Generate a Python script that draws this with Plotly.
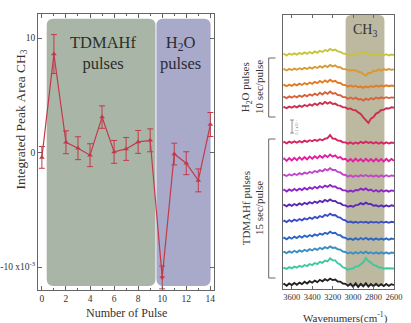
import plotly.graph_objects as go

# ---------------- data: left panel ----------------
pulse = list(range(15))
peak_area = [-0.42, 8.6, 0.9, 0.38, -0.23, 3.1, 0.06, 0.32, 0.93, 1.07, -10.9, -0.13, -0.93, -2.43, 2.45]
peak_err = [0.95, 1.7, 1.0, 1.0, 1.0, 0.98, 1.0, 1.0, 1.0, 1.0, 1.0, 0.95, 1.0, 1.0, 1.05]
x_ticks = [0, 2, 4, 6, 8, 10, 12, 14]
y_ticks = [-10, 0, 10]
y_ticktext = ["-10 x10<sup>-3</sup>", "0", "10"]

# ---------------- data: right panel ----------------
wavenumber = [3700, 3675, 3650, 3625, 3600, 3575, 3550, 3525, 3500, 3475, 3450, 3425, 3400,
              3375, 3350, 3325, 3300, 3275, 3250, 3225, 3200, 3175, 3150, 3125, 3100, 3075,
              3050, 3025, 3000, 2975, 2950, 2925, 2900, 2875, 2850, 2825, 2800, 2775, 2750,
              2725, 2700, 2675, 2650, 2625, 2600]
wn_ticks = [3600, 3400, 3200, 3000, 2800, 2600]
spec_offset = [234, 219, 203, 191, 181, 146, 129, 113, 98, 83, 67, 50, 36, 20, 4]
spec_colors = ["#c8c43a", "#d89a34", "#e27c22", "#d8623a", "#cc3050", "#d42664", "#e41ea2",
               "#c046c8", "#8c24cc", "#5a28b8", "#3a4cc8", "#2a66c4", "#3a8ec4", "#3ec8a0", "#222222"]
s1 = [0,1.2,-0.5,1.4,0.2,1.6,0.4,2.1,0.9,2.6,1.2,3,1.6,3.6,2.2,4.2,3,5,3.9,6,4.6,5.4,3.6,3.2,1.6,1.2,0,-0.6,0.9,0.2,1.8,3,1.6,2.8,0.6,1.4,-0.2,0.9,-0.5,0.7,-0.3,0.8,-0.5,0.4,0]
s2 = [0,1,-0.5,1.1,0,1.4,0.3,1.8,0.6,2.2,1,2.6,1.4,3.2,2,3.8,2.4,4.4,3,5,3.6,4.6,2.8,2.8,1,0.9,-0.3,-0.2,-0.6,-0.3,-1.8,-2.2,-4,-5.6,-3,-3,-0.8,-1.2,0.6,-0.6,0.9,0,1,0.2,0.6]
s3 = [0,1.1,-0.2,1.4,0.2,1.8,0.6,2.3,1,2.9,1.6,3.5,2.2,4.2,2.8,5,3.4,5.6,4,6.2,4.4,5.2,3.2,3,1.2,0.9,-0.6,0.5,-0.8,0.3,-1.2,-0.6,-1.9,-0.4,-1.5,0,-1,0.4,-0.7,0.5,-0.4,0.7,-0.2,0.5,0]
s4 = [0,1.2,-0.1,1.6,0.3,2,0.7,2.5,1.1,3.1,1.7,3.7,2.3,4.4,2.9,5.2,3.5,5.8,4.2,6.4,4.4,5,3,2.8,1,0.9,-0.8,0.5,-1,0.3,-1.4,-1,-2.6,-0.7,-2,0,-1.3,0.5,-0.7,0.7,-0.3,0.8,-0.1,0.6,0.2]
s5 = [0,1,-0.1,1.4,0.3,1.9,0.7,2.4,1.2,3,1.8,3.6,2.4,4.4,3,5.2,3.8,6,4.4,5.8,4,4.4,2.6,2.4,0.8,0.6,-0.9,-0.4,-2,-2.2,-4.4,-6,-9.4,-12.5,-15,-10.6,-9,-5.6,-4.4,-2,-1.8,-0.2,-0.5,0.7,0.2]
s6 = [0,1.1,-0.3,1.3,0.1,1.6,0.3,1.9,0.7,2.4,1.2,2.8,1.7,3.2,2.1,3.7,2.7,4.3,4.8,8,4.4,4.2,2.4,2.2,0.8,0.6,-0.7,0.7,-0.8,0.5,-0.6,1.2,-0.1,1.4,0,0.9,-0.5,0.8,-0.7,0.6,-0.6,0.7,-0.5,0.5,0]
s7 = [0,1.6,-0.9,1.8,-0.5,2.2,-0.1,2.6,0.3,3,0.7,3.4,1.3,3.8,1.7,4.2,2.3,4.8,2.9,5.4,3.3,4.6,2.1,3,0.5,1.2,-1.3,1,-1.5,1.3,-1.1,0.9,-1.4,1.1,-1.2,1,-1.5,1.2,-1.3,0.9,-1.4,1.2,-1.2,1,-0.8]
s8 = [0,1.2,0,1.7,0.5,2.2,1,2.8,1.6,3.4,2.3,4.2,3,5,3.9,5.8,4.7,6.8,5.7,7.8,6,6,4.1,3.6,1.5,1,-0.6,0.6,-0.9,0.5,-0.7,0.9,-0.3,1,-0.5,0.7,-0.7,0.6,-0.8,0.7,-0.6,0.8,-0.5,0.6,0]
s9 = [0,1.4,-0.5,1.6,0.1,2,0.5,2.4,0.9,3,1.5,3.6,2.1,4.2,2.7,4.8,3.3,5.4,4.1,6,4.3,4.6,2.7,2.6,0.7,0.6,-0.7,0.4,-0.7,1,0.7,2.4,1.1,2.6,0.5,1.4,-0.5,0.8,-0.7,0.8,-0.5,0.7,-0.7,0.6,0]
s10 = [0,1.2,-0.3,1.6,0.2,2,0.7,2.6,1.2,3.2,1.9,3.8,2.5,4.4,3.2,5.2,3.9,6,4.7,6.6,4.9,5,3.1,2.8,0.9,0.6,-0.8,0.2,-0.8,0.9,1.1,2.8,1.7,3.4,1.9,2,0.3,0.8,-0.5,0.6,-0.7,0.6,-0.5,0.7,0]
s11 = [0,1.4,-0.1,1.9,0.5,2.4,1.1,3,1.7,3.6,2.5,4.4,3.1,5.2,3.9,6,4.9,7.2,6.1,8.4,6.7,7,4.9,4.4,2.3,1.6,-0.3,0.4,-0.7,0.2,-0.8,0.3,-0.6,0.2,-0.9,0.3,-0.6,0.1,-0.8,0.3,-0.6,0.2,-0.8,0.2,-0.2]
s12 = [0,1.4,-0.3,1.8,0.3,2.4,0.9,2.9,1.5,3.4,2.1,4,2.7,4.6,3.3,5.4,4.3,6.2,5.1,7.4,5.7,6.2,4.1,3.8,1.7,1.2,-0.5,0.4,-0.9,0.8,-0.7,1,-0.5,1.2,-0.6,0.6,-0.9,0.6,-0.8,0.4,-0.7,0.6,-0.8,0.4,-0.2]
s13 = [0,1.2,-0.1,1.6,0.3,2.2,0.7,2.6,1.3,3.2,1.9,3.8,2.5,4.4,3.1,5.2,3.9,5.8,4.7,6.6,5.1,5.4,3.7,3.4,1.5,1,-0.5,0.6,-0.7,0.8,-0.5,1.2,-0.3,1.4,-0.3,0.8,-0.7,0.6,-0.7,0.6,-0.6,0.6,-0.7,0.5,0]
s14 = [0,1.2,0.1,1.8,0.7,2.4,1.3,3.2,2.1,4,2.9,5,3.9,6,4.9,7.2,6.1,8.4,7.5,10.6,8.7,8.6,5.7,4.4,1.7,0.8,-0.9,0.4,0.5,2.4,2.7,4.9,6.7,11,7.7,6.4,3.9,3.4,1.5,1.6,0.3,0.8,0.5,0.6,0.5]
s15 = [0,1.2,-0.7,1.6,0,2,0.3,2.4,0.9,3.2,1.5,3.8,2.3,4.4,2.9,5.2,3.7,5.8,4.3,6.4,4.9,5.4,3.5,3.4,1.5,1.2,-0.7,1.2,-1.7,1.6,-1.9,1.2,-1.3,1.8,-1.5,1,-1.3,1.2,-1.1,0.8,-1.1,1,-0.9,0.8,-0.2]
spectra = [s1, s2, s3, s4, s5, s6, s7, s8, s9, s10, s11, s12, s13, s14, s15]

W, H = 411, 323
SERIF = "Liberation Serif"
TXT = "#333333"


def px(x):
    return x / W


def py(y):
    return 1 - y / H


def rounded(x0, x1, y0, y1, rx, ry):
    sx = 1 if x1 > x0 else -1
    sy = 1 if y1 > y0 else -1
    rx, ry = rx * sx, ry * sy
    return (f"M {x0+rx},{y0} L {x1-rx},{y0} Q {x1},{y0} {x1},{y0+ry} "
            f"L {x1},{y1-ry} Q {x1},{y1} {x1-rx},{y1} L {x0+rx},{y1} "
            f"Q {x0},{y1} {x0},{y1-ry} L {x0},{y0+ry} Q {x0},{y0} {x0+rx},{y0} Z")


fig = go.Figure()

# left panel
symbols = ["triangle-up"] * len(pulse)
symbols[10] = "triangle-down"
fig.add_trace(go.Scatter(
    x=pulse, y=peak_area, mode="lines+markers",
    line=dict(color="#c23a4a", width=1.2),
    marker=dict(symbol=symbols, size=5, color="#c23a4a"),
    error_y=dict(type="data", array=peak_err, color="#c23a4a", thickness=1, width=3),
    xaxis="x", yaxis="y", showlegend=False))

# right panel
for vals, off, col in zip(spectra, spec_offset, spec_colors):
    fig.add_trace(go.Scatter(
        x=wavenumber, y=[off + v for v in vals], mode="lines",
        line=dict(color=col, width=1.9), xaxis="x2", yaxis="y2", showlegend=False))

shapes = [
    dict(type="path", xref="x", yref="y", layer="below", line=dict(width=0),
         fillcolor="#a9b6a7", path=rounded(0.40, 9.44, -11.64, 11.68, 0.55, 0.6)),
    dict(type="path", xref="x", yref="y", layer="below", line=dict(width=0),
         fillcolor="#a9a9c9", path=rounded(9.52, 14.02, -11.64, 11.68, 0.55, 0.6)),
    dict(type="path", xref="x2", yref="y2", layer="below", line=dict(width=0),
         fillcolor="#bdb8a0", path=rounded(3073, 2693, 3, 274, 55, 6)),
    # brackets
    dict(type="path", xref="paper", yref="paper", line=dict(color="#666", width=1),
         path=f"M {px(280)},{py(58)} L {px(273)},{py(58)} L {px(273)},{py(117)} L {px(280)},{py(117)}"),
    dict(type="path", xref="paper", yref="paper", line=dict(color="#666", width=1),
         path=f"M {px(280)},{py(139)} L {px(273)},{py(139)} L {px(273)},{py(278)} L {px(280)},{py(278)}"),
    # scale bar
    dict(type="path", xref="paper", yref="paper", line=dict(color="#777", width=0.8),
         path=f"M {px(295)},{py(120)} L {px(299)},{py(120)} M {px(297)},{py(120)} L {px(297)},{py(133)} "
              f"M {px(295)},{py(133)} L {px(299)},{py(133)}"),
]


def ann(x, y, text, size, ref=("paper", "paper"), angle=0, color=TXT):
    return dict(xref=ref[0], yref=ref[1], x=x, y=y, text=text, showarrow=False,
                xanchor="center", yanchor="middle", textangle=angle,
                font=dict(family=SERIF, size=size, color=color))


annotations = [
    ann(5.1, 8.7, "TDMAHf<br>pulses", 16.5, ("x", "y"), color="#2b302b"),
    ann(11.5, 8.7, "H<sub>2</sub>O<br>pulses", 16.5, ("x", "y"), color="#2b2b35"),
    ann(px(18), py(120), "Integrated Peak Area CH<sub>3</sub>", 13.5, angle=-90),
    ann(px(127), py(313), "Number of Pulse", 12),
    ann(2883, 258, "CH<sub>3</sub>", 14, ("x2", "y2")),
    ann(px(250), py(87), "H<sub>2</sub>O pulses", 11, angle=-90),
    ann(px(263), py(87), "10 sec/pulse", 11, angle=-90),
    ann(px(250), py(208), "TDMAHf pulses", 11, angle=-90),
    ann(px(263), py(208), "15 sec/pulse", 11, angle=-90),
    ann(px(302), py(126.5), "0.1 x10<sup>-3</sup>", 4, angle=-90, color="#777"),
    ann(px(352), py(317), "Wavenumers(cm<sup>-1</sup>)", 11),
]

axis_common = dict(showgrid=False, zeroline=False, showline=True, linecolor="#666",
                   linewidth=1, ticks="inside", tickcolor="#666", mirror="ticks")

fig.update_layout(
    width=W, height=H, margin=dict(l=0, r=0, t=0, b=0),
    paper_bgcolor="white", plot_bgcolor="white",
    font=dict(family=SERIF, color=TXT),
    xaxis=dict(domain=[px(36), px(217)], anchor="y", range=[-0.32, 14.32],
               tickvals=x_ticks, ticklen=4, tickfont=dict(family=SERIF, size=9.5),
               minor=dict(dtick=1, ticks="inside", ticklen=2, tickcolor="#666"),
               **axis_common),
    yaxis=dict(domain=[py(290), py(14)], anchor="x", range=[-12.0, 12.1],
               tickvals=y_ticks, ticktext=y_ticktext, ticklen=4,
               tickfont=dict(family=SERIF, size=9.5), **axis_common),
    xaxis2=dict(domain=[px(288), px(402)], anchor="y2", range=[3683, 2597],
                tickvals=wn_ticks, ticklen=3, tickfont=dict(family=SERIF, size=8.5),
                **axis_common),
    yaxis2=dict(domain=[py(289), py(15)], anchor="x2", range=[0, 274],
                showgrid=False, zeroline=False, showline=True, linecolor="#666",
                linewidth=1, mirror=True, ticks="", showticklabels=False),
    shapes=shapes, annotations=annotations,
)

fig.write_html("out.html")
